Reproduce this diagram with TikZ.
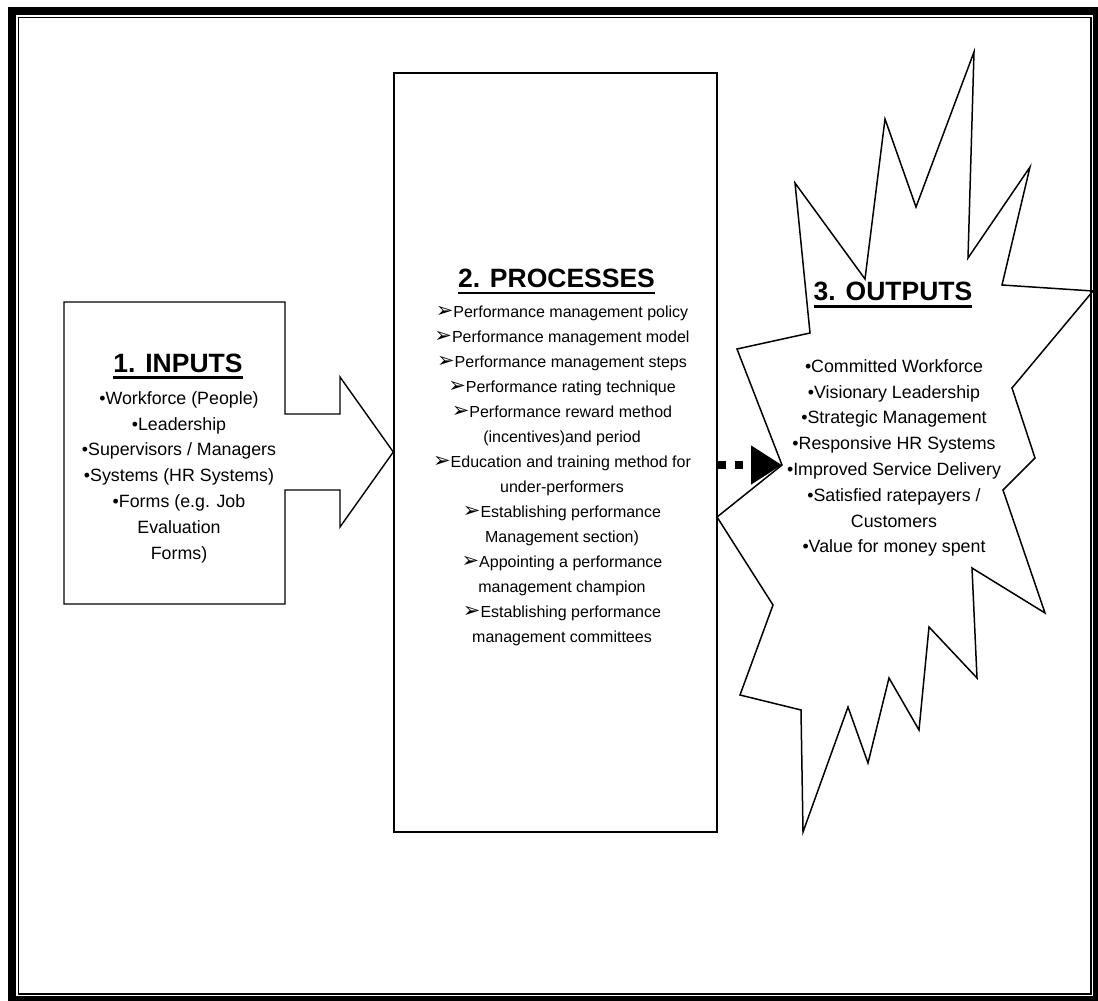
\documentclass[tikz,border=0pt]{standalone}
\usepackage{fontspec}
\setmainfont{Liberation Sans}
\newfontfamily\dingfont{DejaVu Sans}
\usetikzlibrary{arrows.meta}
% arrowhead bullet used in the process list
\newcommand{\pmark}{{\dingfont\fontsize{21}{21}\selectfont\char"27A2}}
\begin{document}
\begin{tikzpicture}[x=1pt,y=-1pt,
  shapeline/.style={draw=black,line width=1.4pt,line join=miter},
  titletext/.style={font=\fontsize{26.5}{30}\selectfont\bfseries,inner sep=0pt,anchor=base},
  sidetext/.style={font=\fontsize{17.8}{25.8}\selectfont,align=center,inner sep=0pt},
  proctext/.style={font=\fontsize{16}{25}\selectfont,align=center,inner sep=0pt},
  uline/.style={line width=2.6pt},
  flowarrow/.style={line width=8pt,dash pattern=on 8pt off 9pt,
    -{Triangle[length=31pt,width=37pt]}}]

\useasboundingbox (0,0) rectangle (1098,1001);
\fill[white] (0,0) rectangle (1098,1001);

% double page frame
\draw[line width=8pt] (12,11) rectangle (1097,1000);
\draw[line width=1.5pt] (18.5,17.5) rectangle (1091,994);

% 2. processes box
\node[shapeline,minimum width=323pt,minimum height=759pt,inner sep=0pt] (proc) at (555.5,452.5) {};

% 1. inputs: box with a right arrow into the processes box
\coordinate (intip) at (proc.west |- 0,452);
\draw[shapeline] (64,302) -- (285,302) -- (285,414) -- (340,414) -- (340,377)
  -- (intip) -- (340,527) -- (340,490) -- (285,490) -- (285,604) -- (64,604) -- cycle;

% 3. outputs: starburst
\coordinate (notch) at (782,465);
\draw[shapeline,line width=1.5pt] (737,349) -- (810,333) -- (795,183) -- (865,279) -- (885,119)
  -- (916,207) -- (974,52) -- (968,258) -- (1030,167) -- (1002,285) -- (1093,291)
  -- (1012,388) -- (1035,458) -- (1003,490) -- (1045,613) -- (972,568) -- (977,678)
  -- (929,627) -- (919,730) -- (889,678) -- (868,763) -- (848,707) -- (803,832)
  -- (801,710) -- (740,695) -- (773,605) -- (717,517) -- (notch) -- cycle;

% arrow from processes to outputs
\draw[flowarrow] (proc.east |- notch) -- (notch);

% titles
\node[titletext] (t1) at (178,372) {1. INPUTS};
\draw[uline] ([yshift=-5.5pt]t1.base west) -- ([yshift=-5.5pt]t1.base east);
\node[titletext] (t2) at (556.5,287.5) {2. PROCESSES};
\draw[uline] ([yshift=-5.5pt]t2.base west) -- ([yshift=-5.5pt]t2.base east);
\node[titletext] (t3) at (893,300) {3. OUTPUTS};
\draw[uline] ([yshift=-6.5pt]t3.base west) -- ([yshift=-6.5pt]t3.base east);

% item lists
\node[sidetext] (l1) at (179,477) {•Workforce (People)\\•Leadership\\•Supervisors / Managers\\
  •Systems (HR Systems)\\•Forms (e.g. Job\\Evaluation\\Forms)};

\node[proctext] (l2) at (562,476) {\pmark Performance management policy\\
  \pmark Performance management model\\
  \pmark Performance management steps\\
  \pmark Performance rating technique\\
  \pmark Performance reward method\\
  (incentives)and period\\
  \pmark Education and training method for\\
  under-performers\\
  \pmark Establishing performance\\
  Management section)\\
  \pmark Appointing a performance\\
  management champion\\
  \pmark Establishing performance\\
  management committees};

\node[sidetext] (l3) at (894,458) {•Committed Workforce\\•Visionary Leadership\\
  •Strategic Management\\•Responsive HR Systems\\•Improved Service Delivery\\
  •Satisfied ratepayers /\\Customers\\•Value for money spent};
\end{tikzpicture}
\end{document}
